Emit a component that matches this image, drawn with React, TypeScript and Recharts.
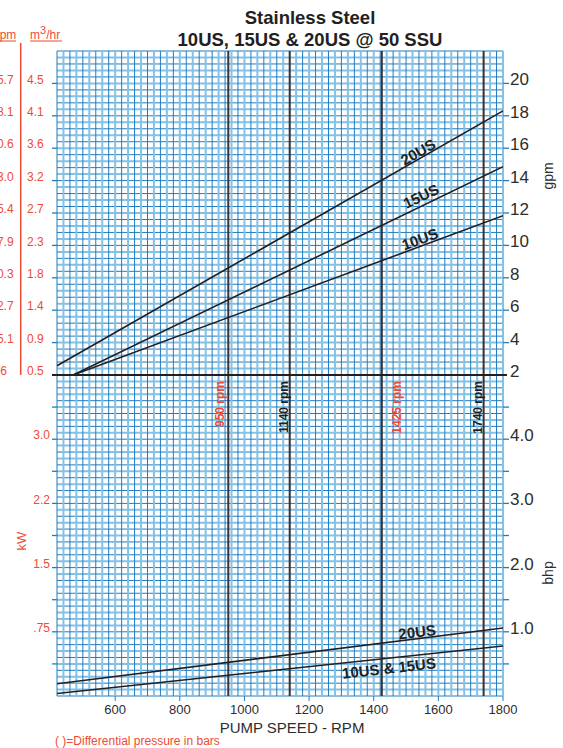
import React from 'react';
import { LineChart, Line, XAxis, YAxis, ReferenceLine, ReferenceDot } from 'recharts';

// pump speed axis
const speedDomain = [420, 1800];
const speedTicks = [600, 800, 1000, 1200, 1400, 1600, 1800];

// capacity (upper panel)
const gpmTicks = [2, 4, 6, 8, 10, 12, 14, 16, 18, 20];
const lpmLabels = ['7.6', '15.1', '22.7', '30.3', '37.9', '45.4', '53.0', '60.6', '68.1', '75.7'];
const m3hrLabels = ['0.5', '0.9', '1.4', '1.8', '2.3', '2.7', '3.2', '3.6', '4.1', '4.5'];

// power (lower panel)
const bhpTicks = [0.5, 1, 1.5, 2, 2.5, 3, 3.5, 4, 4.5];
const bhpLabels = ['', '1.0', '', '2.0', '', '3.0', '', '4.0', ''];
const kwLabels = ['', '.75', '', '1.5', '', '2.2', '', '3.0', ''];

// curves
const flowSpeeds20US = [420, 1800];
const flow20US = [2.57, 18.3];
const flowSpeeds15US = [470, 1800];
const flow15US = [2.0, 14.86];
const flowSpeeds10US = [470, 1800];
const flow10US = [2.0, 11.83];

const powerSpeeds = [420, 1800];
const power20US = [0.19, 1.06];
const power10and15US = [0.04, 0.78];

const markedSpeeds = [950, 1140, 1425, 1740];
const markedSpeedNames = ['950 rpm', '1140 rpm', '1425 rpm', '1740 rpm'];

const RED = '#ee4b36';
const INK = '#231f20';
const AXIS_TEXT = '#2d2d2d';
const GRID_DARK = '#1f7cbf';
const GRID_LIGHT = '#84c1e7';
const SPEED_LINE = '#3a3232';
const FONT = '"Liberation Sans", Arial, Helvetica, sans-serif';

const toRows = (xs: number[], ys: number[], key: string) => xs.map((x, i) => ({ rpm: x, [key]: ys[i] }));

const round2 = (v: number) => Math.round(v * 100) / 100;
const gridSpeeds = Array.from({ length: 70 }, (_, i) => 420 + 20 * i);
const gridGpm = Array.from({ length: 51 }, (_, i) => round2(2 + 0.4 * i));
const gridBhp = Array.from({ length: 51 }, (_, i) => round2(0.1 * i));

const speedLabelStyle = [
  { color: RED, dx: -8 },
  { color: INK, dx: -6 },
  { color: RED, dx: 15 },
  { color: INK, dx: -6 },
];

const UpperLeftTick = ({ y, payload }: any) => {
  const i = gpmTicks.indexOf(payload.value);
  const base = payload.value === 2;
  return (
    <g>
      <line x1={52} x2={57} y1={y} y2={y} stroke={base ? INK : GRID_DARK} strokeWidth={base ? 2 : 1.3} />
      <text x={-9.8} y={y - 4} dy="0.35em" fill={RED} fontSize={12} fontFamily={FONT}>{lpmLabels[i]}</text>
      <text x={27} y={y - 4} dy="0.35em" fill={RED} fontSize={12} fontFamily={FONT}>{m3hrLabels[i]}</text>
    </g>
  );
};

const UpperRightTick = ({ y, payload }: any) => {
  const base = payload.value === 2;
  return (
    <g>
      <line x1={503} x2={base ? 507 : 509} y1={y} y2={y} stroke={base ? INK : GRID_DARK} strokeWidth={base ? 2 : 1.3} />
      <text x={510} y={y - 4} dy="0.35em" fill={AXIS_TEXT} fontSize={17} fontFamily={FONT}>{payload.value}</text>
    </g>
  );
};

const LowerLeftTick = ({ y, payload }: any) => {
  const i = bhpTicks.indexOf(payload.value);
  return (
    <g>
      <line x1={52} x2={57} y1={y} y2={y} stroke={GRID_DARK} strokeWidth={1.3} />
      <text x={50} y={y - 4} dy="0.35em" textAnchor="end" fill={RED} fontSize={12} fontFamily={FONT}>{kwLabels[i]}</text>
    </g>
  );
};

const LowerRightTick = ({ y, payload }: any) => {
  const i = bhpTicks.indexOf(payload.value);
  return (
    <g>
      <line x1={503} x2={509} y1={y} y2={y} stroke={GRID_DARK} strokeWidth={1.3} />
      <text x={510} y={y - 4} dy="0.35em" fill={AXIS_TEXT} fontSize={17} fontFamily={FONT}>{bhpLabels[i]}</text>
    </g>
  );
};

// label props like "angle" get overwritten by recharts' Label defaults, so use "tilt"
const CurveTag = ({ viewBox, text, tilt }: any) => {
  const { x, y } = viewBox;
  return (
    <text x={x} y={y} transform={`rotate(${tilt} ${x} ${y})`} textAnchor="middle" dominantBaseline="central"
      fontWeight="bold" fontSize={15} fill={INK} fontFamily={FONT}>{text}</text>
  );
};

const SpeedTag = ({ viewBox, text, color, shift }: any) => {
  const x = viewBox.x + shift;
  const y = viewBox.y + 6;
  return (
    <text x={x} y={y} transform={`rotate(-90 ${x} ${y})`} textAnchor="end" dominantBaseline="central"
      fontWeight="bold" fontSize={12} fill={color} fontFamily={FONT}>{text}</text>
  );
};

const verticalGrid = () =>
  gridSpeeds.map((s) => {
    const dark = (s - 420) % 40 === 0;
    return (
      <ReferenceLine key={`vx${s}`} x={s} stroke={dark ? GRID_DARK : GRID_LIGHT} strokeWidth={dark ? 1 : 2} />
    );
  });

const speedLines = (withLabels: boolean) =>
  markedSpeeds.map((s, i) => (
    <ReferenceLine key={`sp${s}`} x={s} stroke={SPEED_LINE} strokeWidth={2}
      label={withLabels ? <SpeedTag text={markedSpeedNames[i]} color={speedLabelStyle[i].color} shift={speedLabelStyle[i].dx} /> : undefined} />
  ));

export default function App() {
  return (
    <div style={{ position: 'absolute', left: 0, top: 0, width: 563, height: 748, background: '#fff', overflow: 'hidden' }}>
      {/* lower panel: bhp */}
      <div style={{ position: 'absolute', left: 0, top: 0 }}>
        <LineChart width={563} height={748} margin={{ top: 375, right: 0, bottom: 22, left: 0 }}>
          <XAxis type="number" dataKey="rpm" domain={speedDomain} allowDataOverflow ticks={speedTicks} interval={0}
            height={30} axisLine={false} tickSize={5} tickMargin={4} tickLine={{ stroke: GRID_DARK }}
            tick={{ fill: AXIS_TEXT, fontSize: 13, fontFamily: FONT }} />
          <YAxis yAxisId="kw" orientation="left" type="number" domain={[0, 5]} allowDataOverflow ticks={bhpTicks}
            interval={0} width={57} axisLine={false} tickLine={false} tick={<LowerLeftTick />} />
          <YAxis orientation="right" type="number" domain={[0, 5]} allowDataOverflow ticks={bhpTicks}
            interval={0} width={60} axisLine={false} tickLine={false} tick={<LowerRightTick />} />
          {gridBhp.filter((v) => v < 5).map((v, i) => {
            const dark = i % 2 === 0;
            return <ReferenceLine key={`hb${v}`} y={v} stroke={dark ? GRID_DARK : GRID_LIGHT} strokeWidth={dark ? 1 : 2} />;
          })}
          {verticalGrid()}
          {speedLines(true)}
          <Line data={toRows(powerSpeeds, power20US, 'bhp')} dataKey="bhp" type="linear" dot={false}
            stroke={INK} strokeWidth={1.6} isAnimationActive={false} />
          <Line data={toRows(powerSpeeds, power10and15US, 'bhp')} dataKey="bhp" type="linear" dot={false}
            stroke={INK} strokeWidth={1.6} isAnimationActive={false} />
          <ReferenceDot x={1534} y={1.0} r={0} fill="none" stroke="none" label={<CurveTag text="20US" tilt={-7.2} />} />
          <ReferenceDot x={1447} y={0.436} r={0} fill="none" stroke="none" label={<CurveTag text="10US & 15US" tilt={-6.5} />} />
        </LineChart>
      </div>

      {/* upper panel: gpm */}
      <div style={{ position: 'absolute', left: 0, top: 0 }}>
        <LineChart width={563} height={748} margin={{ top: 51, right: 0, bottom: 373, left: 0 }}>
          <XAxis type="number" dataKey="rpm" domain={speedDomain} allowDataOverflow hide />
          <YAxis yAxisId="m3" orientation="left" type="number" domain={[2, 22]} allowDataOverflow ticks={gpmTicks}
            interval={0} width={57} axisLine={false} tickLine={false} tick={<UpperLeftTick />} />
          <YAxis orientation="right" type="number" domain={[2, 22]} allowDataOverflow ticks={gpmTicks}
            interval={0} width={60} axisLine={false} tickLine={false} tick={<UpperRightTick />} />
          {gridGpm.filter((v) => v > 2).map((v, i) => {
            const dark = i % 2 === 1;
            return <ReferenceLine key={`hg${v}`} y={v} stroke={dark ? GRID_DARK : GRID_LIGHT} strokeWidth={dark ? 1 : 2} />;
          })}
          {verticalGrid()}
          {speedLines(false)}
          <ReferenceLine y={2} stroke={INK} strokeWidth={2.2} />
          <Line data={toRows(flowSpeeds20US, flow20US, 'gpm')} dataKey="gpm" type="linear" dot={false}
            stroke={INK} strokeWidth={1.6} isAnimationActive={false} />
          <Line data={toRows(flowSpeeds15US, flow15US, 'gpm')} dataKey="gpm" type="linear" dot={false}
            stroke={INK} strokeWidth={1.6} isAnimationActive={false} />
          <Line data={toRows(flowSpeeds10US, flow10US, 'gpm')} dataKey="gpm" type="linear" dot={false}
            stroke={INK} strokeWidth={1.6} isAnimationActive={false} />
          <ReferenceDot x={1537} y={15.77} r={0} fill="none" stroke="none" label={<CurveTag text="20US" tilt={-29.7} />} />
          <ReferenceDot x={1546} y={13.05} r={0} fill="none" stroke="none" label={<CurveTag text="15US" tilt={-25.8} />} />
          <ReferenceDot x={1543} y={10.4} r={0} fill="none" stroke="none" label={<CurveTag text="10US" tilt={-20.3} />} />
        </LineChart>
      </div>

      {/* titles and axis names */}
      <svg width={563} height={748} style={{ position: 'absolute', left: 0, top: 0, pointerEvents: 'none' }} fontFamily={FONT}>
        <text x={310} y={24} textAnchor="middle" fontWeight="bold" fontSize={18.5} fill={INK}>Stainless Steel</text>
        <text x={310} y={46} textAnchor="middle" fontWeight="bold" fontSize={18.5} fill={INK}>10US, 15US &amp; 20US @ 50 SSU</text>

        <text x={-3} y={39} fill={RED} fontSize={12}>lpm</text>
        <line x1={0} x2={16} y1={41} y2={41} stroke={RED} strokeWidth={1} />
        <text x={30} y={39} fill={RED} fontSize={12}>
          m<tspan dy={-5} fontSize={11}>3</tspan><tspan dy={5}>/hr</tspan>
        </text>
        <line x1={30} x2={62} y1={41} y2={41} stroke={RED} strokeWidth={1} />
        <line x1={20.7} x2={20.7} y1={43} y2={375} stroke={RED} strokeWidth={1.5} />

        <text transform="translate(21,541) rotate(-90)" textAnchor="middle" dy="0.35em" fill={RED} fontSize={13}>kW</text>
        <text transform="translate(548,176) rotate(-90)" textAnchor="middle" dy="0.35em" fill={AXIS_TEXT} fontSize={14}>gpm</text>
        <text transform="translate(548,573) rotate(-90)" textAnchor="middle" dy="0.35em" fill={AXIS_TEXT} fontSize={14}>bhp</text>

        <text x={292} y={733} textAnchor="middle" fontSize={15} fill={AXIS_TEXT}>PUMP SPEED - RPM</text>
        <text x={55} y={745} fontSize={12} fill={RED}>( )=Differential pressure in bars</text>
      </svg>
    </div>
  );
}
